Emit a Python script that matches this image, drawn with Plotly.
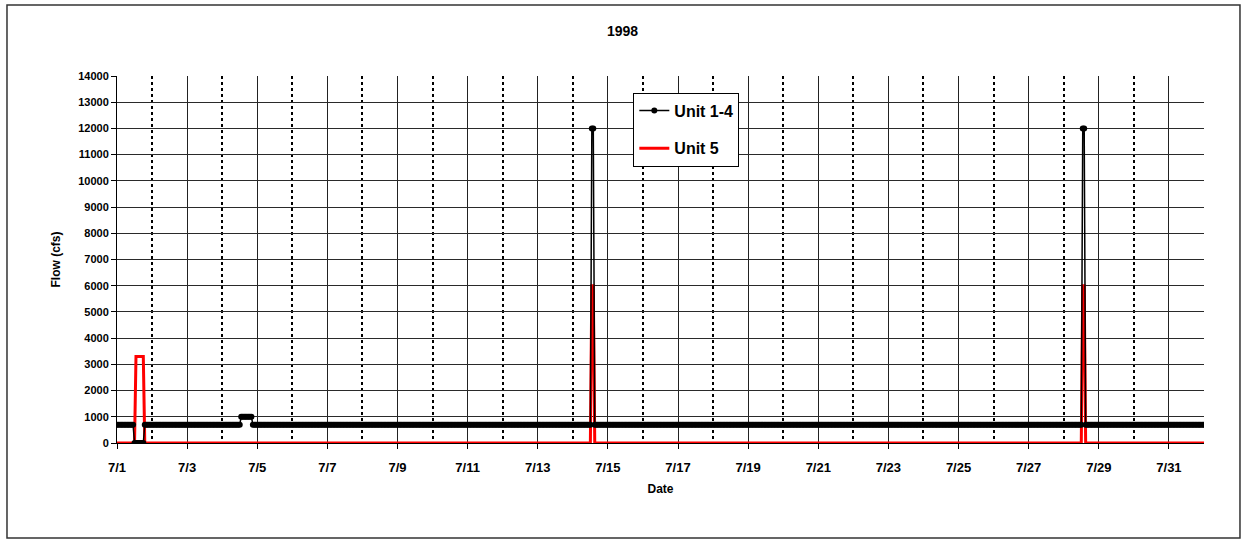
import pandas as pd
import plotly.graph_objects as go

# Hourly flow schedule, July 1998: each entry starts a run that holds
# until the next entry.
unit14_change_times = [
    "1998-07-01 00:00", "1998-07-01 12:00", "1998-07-01 19:00",
    "1998-07-04 13:00", "1998-07-04 21:00",
    "1998-07-14 13:00", "1998-07-14 15:00",
    "1998-07-28 13:00", "1998-07-28 15:00",
]
unit14_flows = [700, 0, 700, 1000, 700, 12000, 700, 12000, 700]

unit5_change_times = [
    "1998-07-01 00:00", "1998-07-01 13:00", "1998-07-01 19:00",
    "1998-07-14 13:00", "1998-07-14 15:00",
    "1998-07-28 13:00", "1998-07-28 15:00",
]
unit5_flows = [0, 3300, 0, 6000, 0, 6000, 0]

hours = pd.date_range("1998-07-01 00:00", "1998-08-01 00:00", freq="h")


def hourly(times, flows):
    runs = pd.Series(flows, index=pd.to_datetime(times))
    return runs.reindex(hours, method="ffill")


unit14 = hourly(unit14_change_times, unit14_flows)
unit5 = hourly(unit5_change_times, unit5_flows)

FONT = "Liberation Sans, Arial, sans-serif"

fig = go.Figure()
fig.add_trace(go.Scatter(
    x=hours, y=unit5, name="Unit 5", mode="lines",
    line=dict(color="#ff0000", width=3),
    legendgroup="u5", legendrank=2,
))
fig.add_trace(go.Scatter(
    x=hours, y=unit14, name="Unit 1-4", mode="lines+markers",
    line=dict(color="#000000", width=1.5),
    marker=dict(color="#000000", size=6, symbol="circle"),
    legendgroup="u14", legendrank=1,
))

fig.update_layout(
    width=1245, height=541,
    margin=dict(l=117, r=41, t=76, b=98),
    paper_bgcolor="white", plot_bgcolor="white",
    font=dict(family=FONT, color="#000000", size=11, weight="bold"),
    title=dict(text="1998", x=0.5, xref="container", y=0.943, yanchor="middle",
               font=dict(size=14, weight="bold")),
    showlegend=True,
    legend=dict(
        x=0.475, y=0.955, xanchor="left", yanchor="top",
        bgcolor="white", bordercolor="#000000", borderwidth=1,
        font=dict(size=16, weight="bold"),
        traceorder="grouped", tracegroupgap=14,
        itemwidth=30, entrywidth=92, entrywidthmode="pixels",
    ),
    shapes=[dict(
        type="rect", xref="paper", yref="paper",
        x0=-0.1012, x1=1.0331, y0=-0.2589, y1=1.1935,
        line=dict(color="#333333", width=1.5), fillcolor="rgba(0,0,0,0)",
        layer="below",
    )],
)

fig.update_xaxes(
    type="date",
    range=["1998-07-01", "1998-08-01"],
    tick0="1998-07-01", dtick=2 * 86400000, tickformat="%-m/%-d",
    ticks="outside", ticklen=5, tickcolor="#000000",
    ticklabelstandoff=7,
    showline=True, linecolor="#000000", linewidth=1,
    showgrid=True, gridcolor="#222222", gridwidth=1,
    minor=dict(dtick=86400000, tick0="1998-07-01", showgrid=True,
               gridcolor="#000000", gridwidth=1.5, griddash="dot", ticks=""),
    title=dict(text="Date", standoff=11, font=dict(size=12, weight="bold")),
    tickfont=dict(size=13, weight="bold"),
    zeroline=False,
)
fig.update_yaxes(
    range=[0, 14000], dtick=1000, tick0=0, tickformat="d",
    ticks="outside", ticklen=5, tickcolor="#000000",
    showline=True, linecolor="#000000", linewidth=1,
    showgrid=True, gridcolor="#2a2a2a", gridwidth=1,
    title=dict(text="Flow (cfs)", standoff=15, font=dict(size=12, weight="bold")),
    tickfont=dict(size=11, weight="bold"),
    zeroline=False,
)

fig.write_html("out.html")
